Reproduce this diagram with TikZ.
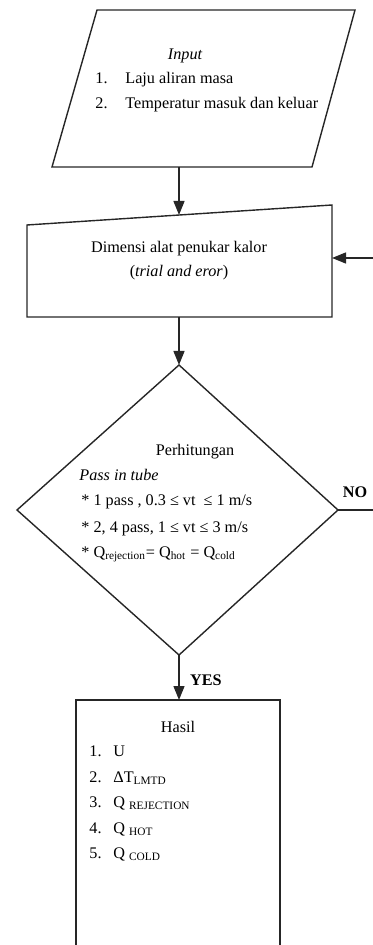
\documentclass[tikz,border=0pt]{standalone}
\usepackage{fontspec}
\setmainfont{Liberation Serif}
\usetikzlibrary{arrows.meta}

\begin{document}
\begin{tikzpicture}[
    x=0.5pt, y=-0.5pt,
    >={Triangle[length=7pt, width=5.5pt]},
    arr/.style={->, line width=0.7pt, draw=black!85},
    shp/.style={draw=black!85, line width=0.7pt},
    txt/.style={font=\fontsize{8.1}{10}\selectfont, inner sep=0pt, anchor=base},
    itm/.style={txt, anchor=base west},
    lbl/.style={txt, font=\fontsize{8.1}{10}\selectfont\bfseries},
]
\useasboundingbox (0,0) rectangle (373,945);
\clip (0,0) rectangle (373,945);
% ============================================================
% input (parallelogram)
% ============================================================
\draw[shp] (97,10) -- (355,10) -- (312,167) -- (52,167) -- cycle;
\coordinate (inbot) at (179,167);
\node[txt, font=\fontsize{8.1}{10}\selectfont\itshape] (intitle) at (185,60) {Input};
\foreach \y/\n/\t in {84/1./Laju aliran masa, 109/2./Temperatur masuk dan keluar} {
    \node[itm] at (95,\y) {\n};
    \node[itm] at (125,\y) {\t};
}
% ============================================================
% dimensi (manual input)
% ============================================================
\draw[shp] (27,225) -- (332,205) -- (332,317) -- (27,317) -- cycle;
\coordinate (dimtop) at (179,215);
\coordinate (dimbot) at (179,317);
\coordinate (dimright) at (332,258);
\node[txt] (dim) at (179,253) {Dimensi alat penukar kalor};
\node[txt] (dimsub) at (179,277) {(\textit{trial and eror})};
% ============================================================
% perhitungan (diamond)
% ============================================================
\draw[shp] (179,365) -- (338,510) -- (179,655) -- (17,510) -- cycle;
\coordinate (ditop) at (179,365);
\coordinate (diright) at (338,510);
\coordinate (dibot) at (179,655);
\node[txt] (calc) at (195,455) {Perhitungan};
\node[itm, font=\fontsize{8.1}{10}\selectfont\itshape] at (79,480) {Pass in tube};
\node[itm] at (81,505) {* 1 pass , 0.3 ≤ vt \ ≤ 1 m/s};
\node[itm] at (81,532) {* 2, 4 pass, 1 ≤ vt ≤ 3 m/s};
\node[itm] at (81,557) {* Q\textsubscript{rejection}= Q\textsubscript{hot} = Q\textsubscript{cold}};
% ============================================================
% hasil (open box, runs off the page)
% ============================================================
\draw[shp] (76,700) rectangle (280,980);
\coordinate (hastop) at (179,700);
\node[txt] (hasil) at (178,732) {Hasil};
\node[itm] at (89,756) {1.};
\node[itm] at (113,756) {U};
\node[itm] at (89,782) {2.};
\node[itm] at (113,782) {ΔT\textsubscript{LMTD}};
\node[itm] at (89,807) {3.};
\node[itm] at (113,807) {Q \textsubscript{REJECTION}};
\node[itm] at (89,833) {4.};
\node[itm] at (113,833) {Q \textsubscript{HOT}};
\node[itm] at (89,858) {5.};
\node[itm] at (113,858) {Q \textsubscript{COLD}};
% ============================================================
% connectors
% ============================================================
\draw[arr] (inbot) -- (dimtop);
\draw[arr] (dimbot) -- (ditop);
\draw[arr] (dibot) -- (hastop);
\coordinate (loopa) at (400,510);
\coordinate (loopb) at (400,258);
\draw[arr] (diright) -- (loopa) -- (loopb) -- (dimright);
\node[lbl] (no) at (355,497) {NO};
\node[lbl] (yes) at (206,685) {YES};
\end{tikzpicture}
\end{document}
